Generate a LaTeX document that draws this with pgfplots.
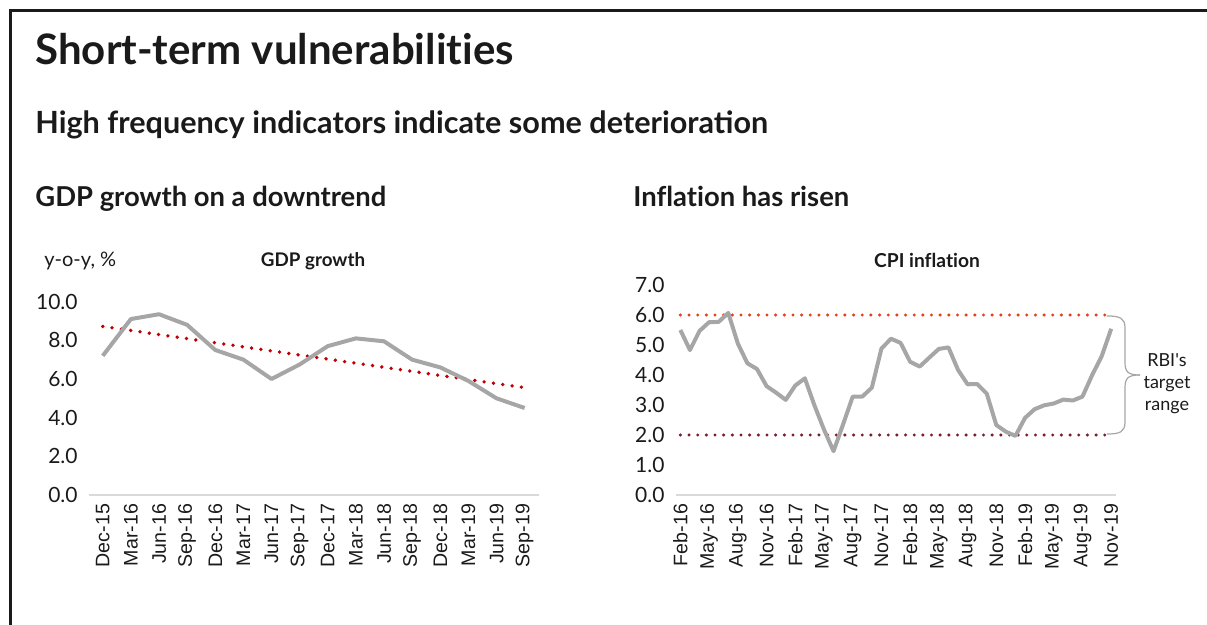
\documentclass[border=0pt]{standalone}
\usepackage{fontspec}
\setmainfont{Lato}
\newfontfamily\arialf{Liberation Sans}
\newfontfamily\latoplain[Ligatures=NoCommon]{Lato}
\usepackage{pgfplots}
\usepackage{pgfplotstable}
\pgfplotsset{compat=1.18}
\definecolor{linegray}{HTML}{A6A6A6}
\definecolor{axgray}{HTML}{D9D9D9}
\definecolor{trendred}{HTML}{C00000}
\definecolor{upred}{HTML}{E5401C}
\definecolor{lowred}{HTML}{7B1E2C}
\definecolor{framec}{HTML}{1A1A1A}
\definecolor{txt}{HTML}{1A1A1A}

\pgfplotstableread{
x y
0 7.2
1 9.1
2 9.35
3 8.8
4 7.5
5 7.0
6 6.0
7 6.75
8 7.7
9 8.1
10 7.95
11 7.0
12 6.6
13 5.9
14 5.0
15 4.5
}\gdptable

\pgfplotstableread{
x y
0 8.72
15 5.55
}\trendtable

\pgfplotstableread{
x y
0 5.5
1 4.83
2 5.47
3 5.76
4 5.77
5 6.07
6 5.05
7 4.39
8 4.20
9 3.63
10 3.41
11 3.17
12 3.65
13 3.89
14 2.99
15 2.18
16 1.46
17 2.36
18 3.28
19 3.28
20 3.58
21 4.88
22 5.21
23 5.07
24 4.44
25 4.28
26 4.58
27 4.87
28 4.92
29 4.17
30 3.69
31 3.70
32 3.38
33 2.33
34 2.11
35 1.97
36 2.57
37 2.86
38 2.99
39 3.05
40 3.18
41 3.15
42 3.28
43 3.99
44 4.62
45 5.54
}\cpitable

\pgfplotsset{
  panel/.style={
    scale only axis,
    axis x line*=bottom, axis y line*=left,
    separate axis lines,
    x axis line style={draw=axgray, line width=0.75pt, -},
    y axis line style={draw=none},
    tick style={draw=none},
    major tick length=0pt,
    /pgf/number format/assume math mode=true,
    yticklabel style={font=\fontsize{10.5pt}{12pt}\selectfont, color=txt,
      /pgf/number format/fixed, /pgf/number format/fixed zerofill,
      /pgf/number format/precision=1, anchor=east, xshift=-2pt},
    xticklabel style={font=\arialf\fontsize{9.8pt}{11pt}\selectfont, color=txt,
      rotate=90, anchor=east, yshift=0pt, xshift=-1pt},
    ymin=0,
  },
}

\begin{document}
\begin{tikzpicture}
\useasboundingbox (0,0) rectangle (603.5pt,-312.5pt);
\begin{scope}[x=0.5pt,y=-0.5pt]
\draw[framec, line width=1.5pt] (1207,11) -- (10,11) -- (10,625);
\node[anchor=base west, inner sep=0, color=txt, font=\latoplain\fontsize{21pt}{25pt}\selectfont\bfseries] at (35,65) {Short-term vulnerabilities};
\node[anchor=base west, inner sep=0, color=txt, font=\fontsize{15.3pt}{18pt}\selectfont\bfseries] at (35,134) {High frequency indicators indicate some deterioration};
\node[anchor=base west, inner sep=0, color=txt, font=\fontsize{13.7pt}{16pt}\selectfont\bfseries] at (35,207) {GDP growth on a downtrend};
\node[anchor=base west, inner sep=0, color=txt, font=\latoplain\fontsize{13.7pt}{16pt}\selectfont\bfseries] at (633,207) {Inflation has risen};
\node[anchor=base, inner sep=0, color=txt, font=\fontsize{9.4pt}{10pt}\selectfont\bfseries] at (313,267) {GDP growth};
\node[anchor=base west, inner sep=0, color=txt, font=\fontsize{10pt}{11pt}\selectfont] at (44,267) {y-o-y, \%};
\node[anchor=base, inner sep=0, color=txt, font=\latoplain\fontsize{9.6pt}{10pt}\selectfont\bfseries] at (927,268) {CPI inflation};
\draw[linegray, line width=0.6pt] (1107,316) .. controls (1120,316) and (1125,318) .. (1125,328) -- (1125,362) .. controls (1125,372) and (1128,375) .. (1140,375);
\draw[linegray, line width=0.6pt] (1107,434) .. controls (1120,434) and (1125,432) .. (1125,422) -- (1125,388) .. controls (1125,378) and (1128,375) .. (1140,375);
\node[anchor=base, inner sep=0, color=txt, font=\fontsize{9pt}{10pt}\selectfont] at (1167,367) {RBI\textquotesingle s};
\node[anchor=base, inner sep=0, color=txt, font=\fontsize{9pt}{10pt}\selectfont] at (1167,389) {target};
\node[anchor=base, inner sep=0, color=txt, font=\fontsize{9pt}{10pt}\selectfont] at (1167,411) {range};
\end{scope}

\begin{axis}[panel,
  at={(44.35pt,-247.5pt)}, anchor=south west,
  width=225pt, height=96.67pt,
  xmin=-0.5, xmax=15.5, ymax=10,
  ytick={0,2,...,10},
  xtick={0,...,15},
  xticklabels={Dec-15,Mar-16,Jun-16,Sep-16,Dec-16,Mar-17,Jun-17,Sep-17,Dec-17,Mar-18,Jun-18,Sep-18,Dec-18,Mar-19,Jun-19,Sep-19},
]
\addplot[trendred, line width=1.9pt, line cap=round, dash pattern=on 0pt off 4.7pt] table[x=x,y=y] {\trendtable};
\addplot[linegray, line width=2pt, line join=round] table[x=x,y=y] {\gdptable};
\end{axis}

\begin{axis}[panel,
  at={(337.8pt,-247.5pt)}, anchor=south west,
  width=220.2pt, height=105pt,
  xmin=-0.5, xmax=45.5, ymax=7,
  ytick={0,1,...,7},
  xtick={0,3,...,45},
  xticklabels={Feb-16,May-16,Aug-16,Nov-16,Feb-17,May-17,Aug-17,Nov-17,Feb-18,May-18,Aug-18,Nov-18,Feb-19,May-19,Aug-19,Nov-19},
]
\addplot[upred, line width=1.7pt, line cap=round, dash pattern=on 0pt off 4.33pt] coordinates {(0,6) (44.5,6)};
\addplot[lowred, line width=1.7pt, line cap=round, dash pattern=on 0pt off 4.33pt] coordinates {(0,2) (44.5,2)};
\addplot[linegray, line width=2pt, line join=round] table[x=x,y=y] {\cpitable};
\end{axis}
\end{tikzpicture}
\end{document}
